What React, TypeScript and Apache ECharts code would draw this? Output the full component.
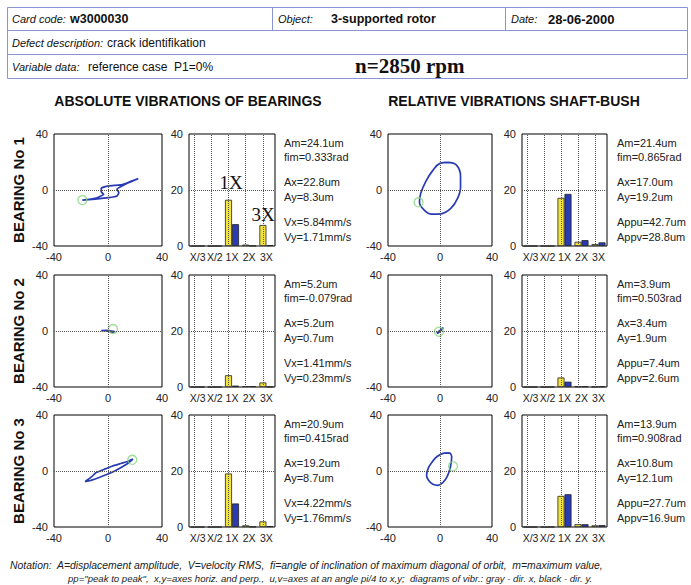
import React, { useEffect, useRef } from 'react';
import * as echarts from 'echarts';

// ---------- data ----------
const harmonics = ['X/3', 'X/2', '1X', '2X', '3X'];

// spectra: gray (yellow bars) = dir. x, black (blue bars) = dir. y
const absX1 = [0, 0, 16.5, 0.5, 7.5];
const absY1 = [0, 0, 7.8, 0.1, 0.3];
const relX1 = [0, 0, 17.2, 1.5, 0.7];
const relY1 = [0, 0, 18.6, 2.1, 1.3];
const absX2 = [0, 0, 4.2, 0.3, 1.6];
const absY2 = [0, 0, 0.5, 0.3, 0.1];
const relX2 = [0, 0, 3.4, 0.2, 0.1];
const relY2 = [0, 0, 1.9, 0.2, 0.2];
const absX3 = [0, 0, 19.1, 0.6, 2.0];
const absY3 = [0, 0, 8.4, 0.1, 0.3];
const relX3 = [0, 0, 11.1, 1.0, 0.6];
const relY3 = [0, 0, 11.7, 1.0, 0.7];

// orbits [x, y] in um
const absOrbit1 = [[-19, -7.2], [-9.5, -6.5], [0.5, -5.5], [6.7, -4.3], [8, -1.9], [6.7, 0.5], [10.4, 2.9], [16, 5.5], [22.4, 8.1], [15, 5.4], [9.2, 3.6], [0.5, 2.9], [-5, 1.2], [-5, -1.2], [-3.2, -3.1], [-9.5, -5.9], [-19, -7.2]];
const absOrbit2 = [[-5, 0.3], [-2, 0.2], [1, -0.3], [3.5, -0.8], [5, -0.4], [2, 0], [-1, 0.4], [-5, 0.3]];
const absOrbit3 = [[-17, -7.6], [-12, -4], [-9, -1.3], [-2, 1.5], [3, 3.4], [10, 5.5], [15, 7], [18.5, 8.5], [14, 5], [5.4, 0.2], [0, -2.2], [-7, -4.8], [-13, -6.8], [-17, -7.6]];
const relOrbit1 = [[6, 19.8], [12.5, 18], [15.8, 10], [15.8, 2], [13.5, -6], [8.5, -13], [1, -17], [-6.5, -17.3], [-12.5, -14], [-15.8, -8.8], [-14.8, -2.4], [-11, 6], [-5.5, 14], [0, 19], [6, 19.8]];
const relOrbit2 = [[-2.5, -1.6], [0, 0.5], [2.5, 2.4], [1.5, 1.2], [-1.5, -1.4], [-2.5, -1.6]];
const relOrbit3 = [[7.5, 13], [9, 10.5], [8.6, 6], [7.5, 1], [5.5, -4], [2.5, -8], [-1.5, -10.2], [-5.5, -9.5], [-9, -6.5], [-10.3, -3], [-9, 2], [-6, 6.5], [-2, 10.5], [3, 12.8], [7.5, 13]];

// start markers (green circles)
const absStart = [[-19, -7.2], [3.7, 1.4], [18, 8]];
const relStart = [[-16.5, -8.8], [-0.8, -0.5], [10, 3.5]];

const orbitTicks = [-40, 0, 40];
const spectrumTicks = [0, 20, 40];

const absStats = [
  ['Am=24.1um', 'fim=0.333rad', 'Ax=22.8um', 'Ay=8.3um', 'Vx=5.84mm/s', 'Vy=1.71mm/s'],
  ['Am=5.2um', 'fim=-0.079rad', 'Ax=5.2um', 'Ay=0.7um', 'Vx=1.41mm/s', 'Vy=0.23mm/s'],
  ['Am=20.9um', 'fim=0.415rad', 'Ax=19.2um', 'Ay=8.7um', 'Vx=4.22mm/s', 'Vy=1.76mm/s'],
];
const relStats = [
  ['Am=21.4um', 'fim=0.865rad', 'Ax=17.0um', 'Ay=19.2um', 'Appu=42.7um', 'Appv=28.8um'],
  ['Am=3.9um', 'fim=0.503rad', 'Ax=3.4um', 'Ay=1.9um', 'Appu=7.4um', 'Appv=2.6um'],
  ['Am=13.9um', 'fim=0.908rad', 'Ax=10.8um', 'Ay=12.1um', 'Appu=27.7um', 'Appv=16.9um'],
];
const bearingNames = ['BEARING No 1', 'BEARING No 2', 'BEARING No 3'];

// ---------- layout ----------
const SANS = '"Liberation Sans", Arial, sans-serif';
const SERIF = '"Liberation Serif", "Times New Roman", serif';
const BLUE = '#2a3cb4';
const YELLOW = '#f3e23a';
const GREEN = '#86d67e';
const rowTops = [134, 275, 415];
const PH = 112;
const cols = {
  absOrbit: { left: 54, width: 108 },
  absBar: { left: 189, width: 86 },
  relOrbit: { left: 388, width: 104 },
  relBar: { left: 522, width: 85 },
};
const statsX = { abs: 284, rel: 617 };
const statsDy = [9, 23, 48, 63, 88, 103];

function buildOption() {
  const grid: any[] = [];
  const xAxis: any[] = [];
  const yAxis: any[] = [];
  const series: any[] = [];
  const graphic: any[] = [];

  const axLabel = { fontFamily: SANS, fontSize: 11, color: '#222' };
  const dotted = { type: 'dotted', color: '#555', width: 1 };

  const absOrbits = [absOrbit1, absOrbit2, absOrbit3];
  const relOrbits = [relOrbit1, relOrbit2, relOrbit3];
  const absXs = [absX1, absX2, absX3];
  const absYs = [absY1, absY2, absY3];
  const relXs = [relX1, relX2, relX3];
  const relYs = [relY1, relY2, relY3];

  const addOrbit = (top: number, col: any, orbit: number[][], start: number[], smooth: number) => {
    const gi = grid.length;
    grid.push({ left: col.left, top, width: col.width, height: PH, show: true, borderColor: '#000', borderWidth: 1, backgroundColor: '#fff', containLabel: false });
    xAxis.push({
      gridIndex: gi, type: 'value', min: orbitTicks[0], max: orbitTicks[2], interval: 40,
      axisLine: { show: false }, axisTick: { show: false }, splitLine: { show: false },
      axisLabel: { ...axLabel, margin: 5 },
    });
    yAxis.push({
      gridIndex: gi, type: 'value', min: orbitTicks[0], max: orbitTicks[2], interval: 40,
      axisLine: { show: false }, axisTick: { show: false }, splitLine: { show: false },
      axisLabel: { ...axLabel, margin: 6 },
    });
    series.push({
      type: 'line', xAxisIndex: gi, yAxisIndex: gi, data: orbit, showSymbol: false, smooth,
      lineStyle: { color: BLUE, width: 1.7 }, z: 3,
      markLine: {
        silent: true, symbol: ['none', 'none'], label: { show: false },
        lineStyle: dotted, data: [{ xAxis: 0 }, { yAxis: 0 }],
      },
    });
    series.push({
      type: 'scatter', xAxisIndex: gi, yAxisIndex: gi, data: [start], symbol: 'circle', symbolSize: 9,
      itemStyle: { color: 'rgba(0,0,0,0)', borderColor: GREEN, borderWidth: 1.3 }, z: 4,
    });
  };

  const addBars = (top: number, col: any, xs: number[], ys: number[]) => {
    const gi = grid.length;
    grid.push({ left: col.left, top, width: col.width, height: PH, show: true, borderColor: '#000', borderWidth: 1, backgroundColor: '#fff', containLabel: false });
    xAxis.push({
      gridIndex: gi, type: 'category', data: harmonics,
      axisLine: { show: false }, axisTick: { show: false }, splitLine: { show: false },
      axisLabel: { ...axLabel, fontSize: 10.5, margin: 5, interval: 0, hideOverlap: false },
    });
    yAxis.push({
      gridIndex: gi, type: 'value', min: spectrumTicks[0], max: spectrumTicks[2], interval: 20,
      axisLine: { show: false }, axisTick: { show: false }, splitLine: { show: false },
      axisLabel: { ...axLabel, margin: 6 },
    });
    series.push({
      type: 'bar', xAxisIndex: gi, yAxisIndex: gi, data: xs, barWidth: 7, barGap: '0%',
      itemStyle: { color: YELLOW, borderColor: '#222', borderWidth: 0.8 }, z: 3,
      markLine: {
        silent: true, symbol: ['none', 'none'], label: { show: false },
        lineStyle: dotted,
        data: [{ yAxis: 20 }, ...harmonics.map((h) => ({ xAxis: h }))],
      },
    });
    series.push({
      type: 'bar', xAxisIndex: gi, yAxisIndex: gi, data: ys, barWidth: 7, barGap: '0%',
      itemStyle: { color: BLUE, borderColor: '#222', borderWidth: 0.8 }, z: 3,
    });
  };

  rowTops.forEach((top, r) => {
    addOrbit(top, cols.absOrbit, absOrbits[r], absStart[r], 0.15);
    addBars(top, cols.absBar, absXs[r], absYs[r]);
    addOrbit(top, cols.relOrbit, relOrbits[r], relStart[r], 0.4);
    addBars(top, cols.relBar, relXs[r], relYs[r]);

    statsDy.forEach((dy, i) => {
      graphic.push({ type: 'text', x: statsX.abs, y: top + dy, style: { text: absStats[r][i], fontFamily: SANS, fontSize: 11, fill: '#222', align: 'left', verticalAlign: 'middle' } });
      graphic.push({ type: 'text', x: statsX.rel, y: top + dy, style: { text: relStats[r][i], fontFamily: SANS, fontSize: 11, fill: '#222', align: 'left', verticalAlign: 'middle' } });
    });
    graphic.push({
      type: 'text', x: 18, y: top + PH / 2, rotation: Math.PI / 2,
      style: { text: bearingNames[r], fontFamily: SANS, fontSize: 15, fontWeight: 'bold', fill: '#111', align: 'center', verticalAlign: 'middle' },
    });
  });

  // harmonic annotations
  graphic.push({ type: 'text', x: 231, y: 182, style: { text: '1X', fontFamily: SERIF, fontSize: 19, fill: '#111', align: 'center', verticalAlign: 'middle' } });
  graphic.push({ type: 'text', x: 263, y: 214, style: { text: '3X', fontFamily: SERIF, fontSize: 19, fill: '#111', align: 'center', verticalAlign: 'middle' } });

  // section titles
  graphic.push({ type: 'text', x: 188, y: 101, style: { text: 'ABSOLUTE VIBRATIONS OF BEARINGS', fontFamily: SANS, fontSize: 14, fontWeight: 'bold', fill: '#111', align: 'center', verticalAlign: 'middle' } });
  graphic.push({ type: 'text', x: 514, y: 101, style: { text: 'RELATIVE VIBRATIONS SHAFT-BUSH', fontFamily: SANS, fontSize: 14, fontWeight: 'bold', fill: '#111', align: 'center', verticalAlign: 'middle' } });

  // header table
  const hb = '#8a94d4';
  graphic.push({ type: 'rect', shape: { x: 7.5, y: 7.5, width: 680, height: 71 }, style: { fill: 'none', stroke: hb, lineWidth: 1 } });
  graphic.push({ type: 'line', shape: { x1: 7.5, y1: 30.5, x2: 687.5, y2: 30.5 }, style: { stroke: hb, lineWidth: 1 } });
  graphic.push({ type: 'line', shape: { x1: 7.5, y1: 54.5, x2: 687.5, y2: 54.5 }, style: { stroke: hb, lineWidth: 1 } });
  graphic.push({ type: 'line', shape: { x1: 272.5, y1: 7.5, x2: 272.5, y2: 30.5 }, style: { stroke: hb, lineWidth: 1 } });
  graphic.push({ type: 'line', shape: { x1: 505.5, y1: 7.5, x2: 505.5, y2: 30.5 }, style: { stroke: hb, lineWidth: 1 } });

  const ht = (text: string, x: number, y: number, extra: any = {}) =>
    graphic.push({ type: 'text', x, y, style: { text, fontFamily: SANS, fontSize: 12, fill: '#111', align: 'left', verticalAlign: 'middle', ...extra } });
  const lab = { fontStyle: 'italic', fontSize: 11 };
  const val = { fontWeight: 'bold', fontSize: 12.5 };
  ht('Card code:', 12, 19, lab);
  ht('w3000030', 70, 19, val);
  ht('Object:', 278, 19, lab);
  ht('3-supported rotor', 331, 19, val);
  ht('Date:', 511, 19, lab);
  ht('28-06-2000', 548, 19, { ...val, fontSize: 13 });
  ht('Defect description:', 12, 43, lab);
  ht('crack identifikation', 107, 43);
  ht('Variable data:', 12, 67, lab);
  ht('reference case  P1=0%', 88, 67);
  ht('n=2850 rpm', 355, 66, { fontFamily: SERIF, fontWeight: 'bold', fontSize: 21 });

  // footer notation
  const ft = (text: string, x: number, y: number, size: number) =>
    graphic.push({ type: 'text', x, y, style: { text, fontFamily: SANS, fontSize: size, fontStyle: 'italic', fill: '#222', align: 'left', verticalAlign: 'middle' } });
  ft('Notation:  A=displacement amplitude,  V=velocity RMS,  fi=angle of inclination of maximum diagonal of orbit,  m=maximum value,', 10, 565, 10.4);
  ft('pp="peak to peak",  x,y=axes horiz. and perp.,  u,v=axes at an angle pi/4 to x,y;  diagrams of vibr.: gray - dir. x, black - dir. y.', 68, 578, 9.6);

  return {
    animation: false,
    backgroundColor: '#fff',
    grid, xAxis, yAxis, series, graphic,
  };
}

export default function App() {
  const ref = useRef<HTMLDivElement>(null);
  useEffect(() => {
    if (!ref.current) return;
    const chart = echarts.init(ref.current, undefined, { renderer: 'svg' });
    chart.setOption(buildOption() as any);
    return () => chart.dispose();
  }, []);
  return <div ref={ref} style={{ position: 'absolute', left: 0, top: 0, width: 691, height: 585, background: '#fff' }} />;
}
